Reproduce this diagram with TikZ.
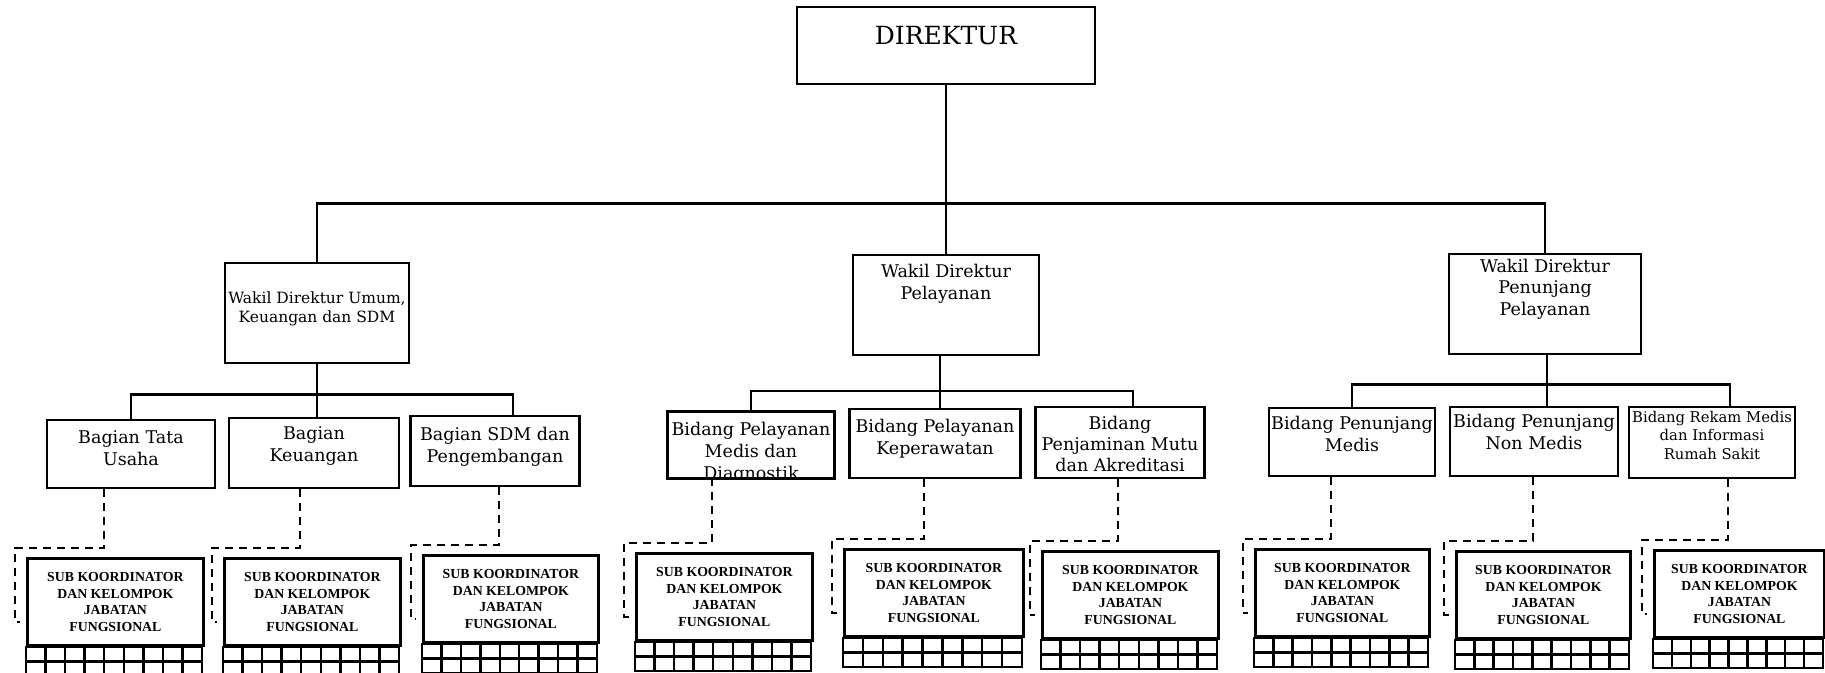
\documentclass[tikz,border=0pt]{standalone}
\usepackage{fontspec}
\setmainfont{DejaVu Serif}
\newfontfamily\subfont{Liberation Serif}
\usetikzlibrary{positioning}
\tikzset{
  box/.style={draw, line width=2.8pt, inner sep=0pt},
  txt/.style={inner sep=0pt, align=center, font=\fontsize{17.5}{22}\selectfont},
  smalltxt/.style={inner sep=0pt, align=center, font=\fontsize{15}{19}\selectfont},
  subbox/.style={draw, line width=2.8pt, anchor=north west, minimum height=87pt,
    inner sep=0pt, align=center, font=\subfont\bfseries\fontsize{13.8}{16.5}\selectfont},
  link/.style={line width=2.4pt},
  dashlink/.style={line width=2.4pt, dash pattern=on 8pt off 6pt},
  gridline/.style={line width=2.4pt}
}
\begin{document}
\begin{tikzpicture}[x=1pt, y=-1pt]
    \useasboundingbox (0,0) rectangle (1825,672);
    % direktur and wakil direktur
    \node[box, line width=2.4pt, minimum width=298pt, minimum height=77pt] (dir) at (946,45.5) {};
    \node[txt, font=\fontsize{25}{30}\selectfont, below=20pt of dir.north] (dir-t) {DIREKTUR};
    \node[box, minimum width=184pt, minimum height=100pt] (wdu) at (317,313) {};
    \node[smalltxt, font=\fontsize{15.5}{19}\selectfont, below=30pt of wdu.north] (wdu-t) {Wakil Direktur Umum,\\Keuangan dan SDM};
    \node[box, minimum width=186pt, minimum height=100pt] (wdp) at (946,305) {};
    \node[txt, below=10pt of wdp.north] (wdp-t) {Wakil Direktur\\Pelayanan};
    \node[box, minimum width=192pt, minimum height=100pt] (wdpp) at (1545,304) {};
    \node[txt, font=\fontsize{17.5}{21.5}\selectfont, below=6pt of wdpp.north] (wdpp-t) {Wakil Direktur\\Penunjang\\Pelayanan};
    % bagian
    \node[box, minimum width=168pt, minimum height=68pt] (tu) at (131,454) {};
    \node[txt, below=12pt of tu.north] (tu-t) {Bagian Tata\\Usaha};
    \node[box, minimum width=170pt, minimum height=70pt] (keu) at (314,453) {};
    \node[txt, below=10pt of keu.north] (keu-t) {Bagian\\Keuangan};
    \node[box, minimum width=169pt, minimum height=70pt] (sdm) at (495,451) {};
    \node[txt, below=12pt of sdm.north] (sdm-t) {Bagian SDM dan\\Pengembangan};
    % bidang pelayanan
    \node[inner sep=0pt, minimum width=167pt, minimum height=66pt] (med) at (751,445) {};
    \begin{scope}
        \clip (med.south west) rectangle (med.north east);
        \node[txt, font=\fontsize{17.5}{22}\selectfont, below=10pt of med.north] (med-t) {Bidang Pelayanan\\Medis dan\\Diagnostik};
    \end{scope}
    \draw[line width=2.8pt] (med.south west) rectangle (med.north east);
    \node[box, minimum width=171pt, minimum height=69pt] (kep) at (935,443.5) {};
    \node[txt, below=11pt of kep.north] (kep-t) {Bidang Pelayanan\\Keperawatan};
    \node[box, minimum width=169pt, minimum height=71pt] (mutu) at (1120,442.5) {};
    \node[txt, font=\fontsize{17.5}{21}\selectfont, below=10pt of mutu.north] (mutu-t) {Bidang\\Penjaminan Mutu\\dan Akreditasi};
    % bidang penunjang
    \node[box, minimum width=166pt, minimum height=68pt] (pm) at (1352,442) {};
    \node[txt, below=9pt of pm.north] (pm-t) {Bidang Penunjang\\Medis};
    \node[box, minimum width=168pt, minimum height=69pt] (pnm) at (1534,441.5) {};
    \node[txt, below=8pt of pnm.north] (pnm-t) {Bidang Penunjang\\Non Medis};
    \node[box, minimum width=166pt, minimum height=71pt] (rm) at (1712,442.5) {};
    \node[smalltxt, font=\fontsize{14.8}{18.5}\selectfont, below=5pt of rm.north] (rm-t) {Bidang Rekam Medis\\dan Informasi\\Rumah Sakit};
    % garis
    \draw[link] (dir.south) -- (dir.south |- wdp.north);
    \draw[link] (wdu.north) -- ++(0,-58) -| (wdpp.north);
    \draw[link] (wdu.south) -- (wdu.south |- keu.north);
    \draw[link] (tu.north) -- ++(0,-24) -| ([xshift=18pt]sdm.north);
    \draw[link] ([xshift=-6pt]wdp.south) -- ([xshift=-6pt]wdp.south |- kep.north);
    \draw[link] (med.north) -- ++(0,-21) -| ([xshift=13pt]mutu.north);
    \draw[link] ([xshift=2pt]wdpp.south) -- ([xshift=2pt]wdpp.south |- pnm.north);
    \draw[link] (pm.north) -- ++(0,-22) -| ([xshift=18pt]rm.north);
    % sub koordinator
    \foreach \n/\p/\d/\l/\t/\w in {1/tu/104/26/557/176, 2/keu/300/223/557/176,
        3/sdm/499/422/554/175, 4/med/712/635/552/176, 5/kep/924/843/548/179,
        6/mutu/1118/1041/550/176, 7/pm/1331/1254/548/174, 8/pnm/1533/1455/550/174,
        9/rm/1728/1653/549/170} {
        \node[subbox, minimum width=\w pt] (s\n) at (\l,\t) {SUB KOORDINATOR\\DAN KELOMPOK\\JABATAN\\FUNGSIONAL};
        \draw[gridline] (s\n.south west) rectangle ++(\w,29);
        \draw[gridline] ([shift={(0,14.5)}]s\n.south west) -- ++(\w,0);
        \foreach \k in {1,...,8}
            \draw[gridline] ([shift={(\k*\w/9,0)}]s\n.south west) -- ++(0,29);
        \draw[dashlink] (\p.south -| \d,0) |- ([shift={(-11,-9)}]s\n.north west)
            -- ([shift={(-11,65)}]s\n.north west) -- ++(5,0);
    }
\end{tikzpicture}
\end{document}
